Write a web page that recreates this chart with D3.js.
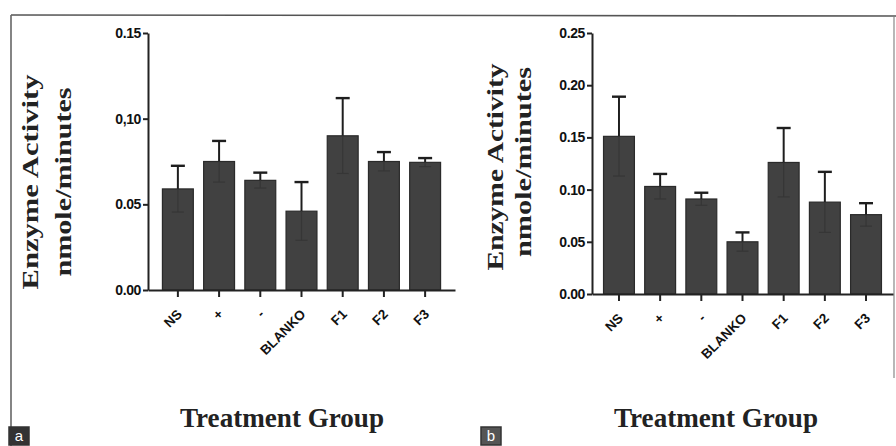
<!DOCTYPE html>
<html>
<head>
<meta charset="utf-8">
<script src="https://cdn.jsdelivr.net/npm/d3@7"></script>
<style>
  html, body { margin: 0; padding: 0; background: #fff; }
  svg { display: block; }
</style>
</head>
<body>
<svg id="chart" width="896" height="446"></svg>
<script>
// ---- data ----
const categories = ["NS", "+", "-", "BLANKO", "F1", "F2", "F3"];
const meanA = [0.059, 0.075, 0.064, 0.046, 0.090, 0.075, 0.0745];
const errA  = [0.0135, 0.012, 0.0045, 0.017, 0.022, 0.0055, 0.0025];
const meanB = [0.151, 0.103, 0.091, 0.050, 0.126, 0.088, 0.076];
const errB  = [0.038, 0.012, 0.006, 0.009, 0.033, 0.029, 0.011];
const ticksA = [0, 0.05, 0.10, 0.15];
const tickLabelsA = ["0.00", "0.05", "0,10", "0.15"];
const ticksB = [0, 0.05, 0.10, 0.15, 0.20, 0.25];
const tickLabelsB = ["0.00", "0.05", "0.10", "0.15", "0.20", "0.25"];
const yTitle1 = "Enzyme Activity";
const yTitle2 = "nmole/minutes";
const xTitle = "Treatment Group";

const svg = d3.select("#chart");

// frame
svg.append("line").attr("x1", 11).attr("y1", 15).attr("x2", 896).attr("y2", 16)
  .attr("stroke", "#555").attr("stroke-width", 1.6);
svg.append("line").attr("x1", 11).attr("y1", 15).attr("x2", 11).attr("y2", 446)
  .attr("stroke", "#666").attr("stroke-width", 1.6);
svg.append("line").attr("x1", 894).attr("y1", 17).attr("x2", 894).attr("y2", 378)
  .attr("stroke", "#888").attr("stroke-width", 1.2);

function drawPanel(o) {
  const g = svg.append("g");
  const y = d3.scaleLinear().domain([0, o.ymax]).range([o.yBottom, o.yTop]);
  const x = d3.scaleBand().domain(categories).range([o.axisX, o.rangeEnd])
    .paddingInner(0.25).paddingOuter(o.outer);

  // bars
  g.selectAll("rect.bar").data(categories).enter().append("rect")
    .attr("class", "bar")
    .attr("x", d => x(d))
    .attr("width", x.bandwidth())
    .attr("y", (d, i) => y(o.means[i]))
    .attr("height", (d, i) => y(0) - y(o.means[i]))
    .attr("fill", "#414141")
    .attr("stroke", "#2a2a2a")
    .attr("stroke-width", 1.2);

  // error bars
  const cx = d => x(d) + x.bandwidth() / 2;
  const eb = g.selectAll("g.err").data(categories).enter().append("g").attr("class", "err");
  eb.append("line")
    .attr("x1", cx).attr("x2", cx)
    .attr("y1", (d, i) => y(o.means[i]))
    .attr("y2", (d, i) => y(o.means[i] + o.errs[i]))
    .attr("stroke", "#1e1e1e").attr("stroke-width", 2);
  eb.append("line")
    .attr("x1", d => cx(d) - 7).attr("x2", d => cx(d) + 7)
    .attr("y1", (d, i) => y(o.means[i] + o.errs[i]))
    .attr("y2", (d, i) => y(o.means[i] + o.errs[i]))
    .attr("stroke", "#1e1e1e").attr("stroke-width", 2.4);
  eb.append("line")
    .attr("x1", cx).attr("x2", cx)
    .attr("y1", (d, i) => y(o.means[i]))
    .attr("y2", (d, i) => y(o.means[i] - o.errs[i]))
    .attr("stroke", "#363636").attr("stroke-width", 1.2);
  eb.append("line")
    .attr("x1", d => cx(d) - 6).attr("x2", d => cx(d) + 6)
    .attr("y1", (d, i) => y(o.means[i] - o.errs[i]))
    .attr("y2", (d, i) => y(o.means[i] - o.errs[i]))
    .attr("stroke", "#363636").attr("stroke-width", 1.2);

  // y axis
  const ya = g.append("g").attr("transform", `translate(${o.axisX},0)`)
    .call(d3.axisLeft(y).tickValues(o.ticks).tickSize(5).tickSizeOuter(0).tickPadding(2)
      .tickFormat((d, i) => o.tickLabels[i]));
  ya.select(".domain").attr("stroke", "#222").attr("stroke-width", 2);
  ya.selectAll(".tick line").attr("stroke", "#222").attr("stroke-width", 2);
  ya.selectAll(".tick text")
    .attr("font-family", "'Liberation Sans', Arial, sans-serif")
    .attr("font-weight", "bold").attr("font-size", 14).attr("fill", "#111")
    .attr("letter-spacing", -0.4);

  // x axis
  const xa = g.append("g").attr("transform", `translate(0,${o.yBottom})`)
    .call(d3.axisBottom(x).tickSize(7).tickSizeOuter(0));
  xa.select(".domain").attr("stroke", "#222").attr("stroke-width", 2);
  xa.selectAll(".tick line").attr("stroke", "#222").attr("stroke-width", 2);
  xa.selectAll(".tick text")
    .attr("font-family", "'Liberation Sans', Arial, sans-serif")
    .attr("font-weight", "bold").attr("font-size", 13.5).attr("fill", "#111")
    .attr("text-anchor", "end")
    .attr("y", 0).attr("dy", 0)
    .attr("transform", "translate(5,25) rotate(-45)");

  // titles
  g.append("text")
    .attr("transform", `translate(${o.t1x},${o.t1y}) rotate(-90)`)
    .attr("text-anchor", "middle")
    .attr("font-family", "'Liberation Serif', 'Times New Roman', serif")
    .attr("font-weight", "bold").attr("font-size", 24).attr("fill", "#222")
    .attr("textLength", o.t1len).attr("lengthAdjust", "spacingAndGlyphs")
    .text(yTitle1);
  g.append("text")
    .attr("transform", `translate(${o.t2x},${o.t2y}) rotate(-90)`)
    .attr("text-anchor", "middle")
    .attr("font-family", "'Liberation Serif', 'Times New Roman', serif")
    .attr("font-weight", "bold").attr("font-size", 24).attr("fill", "#222")
    .attr("textLength", o.t2len).attr("lengthAdjust", "spacingAndGlyphs")
    .text(yTitle2);
  g.append("text")
    .attr("x", o.xtx).attr("y", 427)
    .attr("text-anchor", "middle")
    .attr("font-family", "'Liberation Serif', 'Times New Roman', serif")
    .attr("font-weight", "bold").attr("font-size", 27).attr("fill", "#222")
    .attr("textLength", 204).attr("lengthAdjust", "spacingAndGlyphs")
    .text(xTitle);

  // panel letter
  g.append("rect").attr("x", o.lx).attr("y", 427).attr("width", 20).attr("height", 18)
    .attr("fill", o.lfill).attr("stroke", "#333").attr("stroke-width", 1.5);
  g.append("text").attr("x", o.lx + 10).attr("y", 441)
    .attr("text-anchor", "middle")
    .attr("font-family", "'Liberation Sans', Arial, sans-serif")
    .attr("font-size", 15).attr("fill", "#fff")
    .text(o.letter);
}

drawPanel({
  axisX: 148, rangeEnd: 455, outer: 0.35, yTop: 33, yBottom: 290, ymax: 0.15,
  means: meanA, errs: errA, ticks: ticksA, tickLabels: tickLabelsA,
  t1x: 38, t1y: 182, t1len: 215, t2x: 71, t2y: 182, t2len: 189,
  xtx: 282, lx: 9, lfill: "#333", letter: "a"
});
drawPanel({
  axisX: 592, rangeEnd: 893, outer: 0.28, yTop: 33, yBottom: 294, ymax: 0.25,
  means: meanB, errs: errB, ticks: ticksB, tickLabels: tickLabelsB,
  t1x: 503, t1y: 167, t1len: 207, t2x: 531, t2y: 162, t2len: 190,
  xtx: 716, lx: 481, lfill: "#555", letter: "b"
});
</script>
</body>
</html>
